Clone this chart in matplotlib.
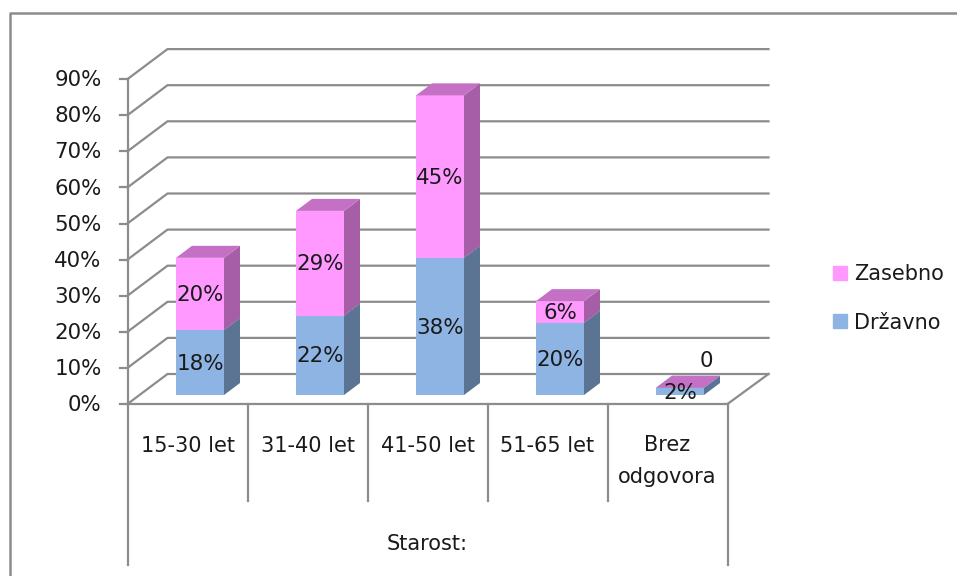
import matplotlib
matplotlib.use("Agg")
import matplotlib.pyplot as plt
from matplotlib.patches import Patch

categories = ["15-30 let", "31-40 let", "41-50 let", "51-65 let", "Brez\nodgovora"]
drzavno = [18, 22, 38, 20, 2]
zasebno = [20, 29, 45, 6, 0]
drzavno_labels = ["18%", "22%", "38%", "20%", "2%"]
zasebno_labels = ["20%", "29%", "45%", "6%", "0"]
y_ticks = [0, 10, 20, 30, 40, 50, 60, 70, 80, 90]
group_title = "Starost:"

BLUE, BLUE_TOP, BLUE_SIDE = "#8EB4E3", "#7F9FC9", "#5B7493"
PINK, PINK_TOP, PINK_SIDE = "#FF99FF", "#C470C4", "#A65FA6"
GRID = "#8C8C8C"
TEXT = "#1A1A1A"
FONT = 15.4
FONT_CAT = 15.0

W, H = 957, 576
PX_X = 120.0    # pixels per category
PX_Y = 3.61     # pixels per percentage point
X0, Y0 = 127.5, 404.0

fig = plt.figure(figsize=(W / 100, H / 100), dpi=100, facecolor="white")
ax = fig.add_axes([0, 0, 1, 1])
ax.set_xlim(-X0 / PX_X, (W - X0) / PX_X)
ax.set_ylim((Y0 - H) / PX_Y, Y0 / PX_Y)
ax.axis("off")

# Depth offsets of the 3D box, in category and percent units
WALL_DX, WALL_DY = 40 / PX_X, 30 / PX_Y
WALL_RIGHT = 5 + 41 / PX_X
BAR_DX, BAR_DY = 16 / PX_X, 12 / PX_Y
BAR_W = 48 / PX_X
BAR_SHIFT = 12.5 / PX_X
FLOOR = 9 / PX_Y
LW = 1.6
TEXT_DROP = 1.2 / PX_Y

# Outer chart frame, open towards the right and bottom edges
fig.add_artist(plt.Line2D([9.5 / W, 9.5 / W, 1], [0, 1 - 12.5 / H, 1 - 12.5 / H],
                          color=GRID, lw=1.8))

# Wall gridlines, running back from the axis and across the rear wall
for t in y_ticks:
    ax.plot([0, WALL_DX, WALL_RIGHT], [t, t + WALL_DY, t + WALL_DY], color=GRID, lw=LW, zorder=1)
    ax.plot([-8 / PX_X, 0], [t, t], color=GRID, lw=LW, zorder=1)
    ax.text(-26 / PX_X, t - TEXT_DROP, f"{t}%", ha="right", va="center", fontsize=FONT, color=TEXT)

# Floor edges and the value axis
ax.plot([5, WALL_RIGHT], [0, WALL_DY], color=GRID, lw=LW, zorder=1)
ax.plot([0, 5], [0, 0], color=GRID, lw=LW, zorder=1)
ax.plot([0, 0], [90, 0], color=GRID, lw=LW, zorder=1)

# Two-level category axis separators
sep_low = (Y0 - 500.5) / PX_Y
sep_end = (Y0 - 565) / PX_Y
for i in range(1, 5):
    ax.plot([i, i], [0, sep_low], color=GRID, lw=LW, zorder=1)
for i in (0, 5):
    ax.plot([i, i], [0, sep_end], color=GRID, lw=LW, zorder=1)


def draw_segment(cx, low, high, face, top, side, zorder):
    left, right = cx - BAR_W / 2, cx + BAR_W / 2
    ax.bar(cx, high - low, BAR_W, bottom=low, color=face, linewidth=0, zorder=zorder)
    ax.fill([right, right + BAR_DX, right + BAR_DX, right],
            [low, low + BAR_DY, high + BAR_DY, high], color=side, lw=0, zorder=zorder)
    ax.fill([left, left + BAR_DX, right + BAR_DX, right],
            [high, high + BAR_DY, high + BAR_DY, high], color=top, lw=0, zorder=zorder)


for i, (d, z) in enumerate(zip(drzavno, zasebno)):
    cx = i + 0.5 + BAR_SHIFT
    mid = FLOOR + d
    draw_segment(cx, FLOOR, mid, BLUE, BLUE_TOP, BLUE_SIDE, 3)
    draw_segment(cx, mid, mid + z, PINK, PINK_TOP, PINK_SIDE, 4)
    ax.text(cx, FLOOR + d / 2 - TEXT_DROP, drzavno_labels[i], ha="center", va="center",
            fontsize=FONT, color=TEXT, zorder=6)
    if z > 0:
        ax.text(cx, mid + z / 2 - TEXT_DROP, zasebno_labels[i], ha="center", va="center",
                fontsize=FONT, color=TEXT, zorder=6)
    else:
        # Empty segment: the label sits up and to the right of the bar
        ax.annotate(zasebno_labels[i], (cx, mid), xytext=(19, 19), textcoords="offset points",
                    ha="center", va="center", fontsize=FONT, color=TEXT, zorder=6)
    two_lines = "\n" in categories[i]
    ax.text(i + 0.5, (Y0 - (461 if two_lines else 445.5)) / PX_Y, categories[i],
            ha="center", va="center", fontsize=FONT_CAT, color=TEXT, linespacing=1.7)

ax.text(2.5, (Y0 - 544) / PX_Y, group_title, ha="center", va="center", fontsize=FONT_CAT, color=TEXT)

handles = [Patch(color=PINK, label="Zasebno"), Patch(color=BLUE, label="Državno")]
ax.legend(handles=handles, loc="upper left", bbox_to_anchor=(827 / W, 1 - 258 / H),
          frameon=False, fontsize=FONT_CAT, handlelength=0.68, handleheight=0.68,
          handletextpad=0.3, labelspacing=1.36, labelcolor=TEXT, borderpad=0.3, borderaxespad=0)

fig.savefig("out.png", dpi=100)
